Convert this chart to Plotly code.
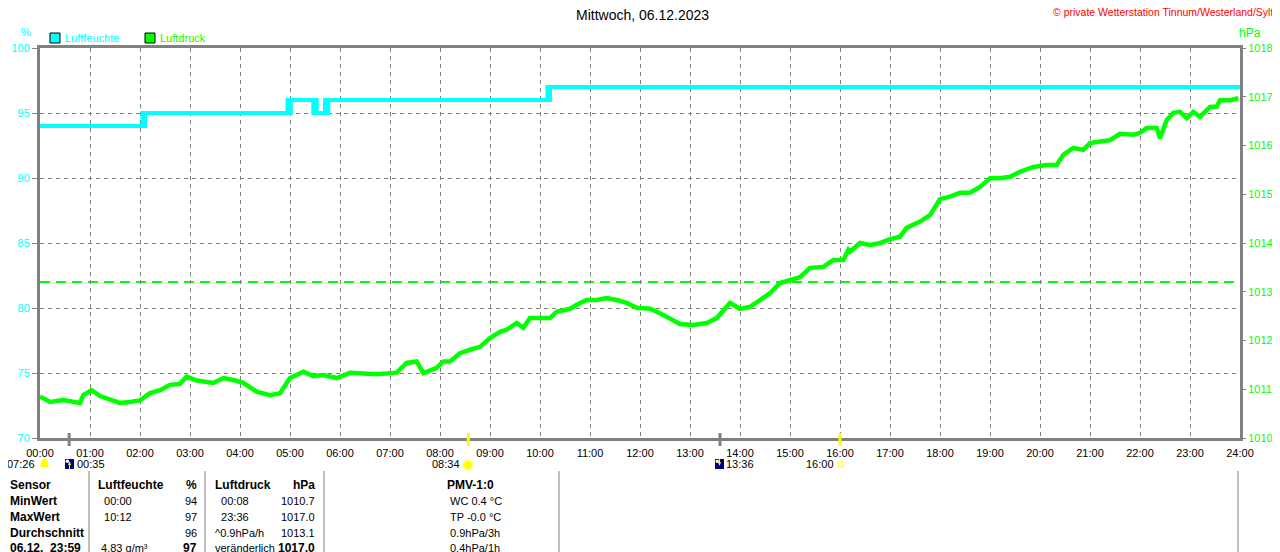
import plotly.graph_objects as go

# ---------------- data ----------------
hours = list(range(0, 25))
hour_labels = [f"{h:02d}:00" for h in hours]

# relative humidity (%), step series: minutes of day / value
hum_min = [0, 123, 124, 126, 297, 299, 301, 328, 330, 332, 342, 344, 346, 609, 610, 612, 1440]
hum_val = [94, 95, 94, 95, 96, 95, 96, 95, 96, 95, 96, 95, 96, 97, 96, 97, 97]

# air pressure (hPa): minutes of day / value
p_min = [0, 12, 28, 48, 52, 62, 72, 84, 96, 108, 120, 132, 144, 156, 168, 176, 188, 208, 220, 232,
         244, 260, 276, 288, 300, 316, 328, 340, 356, 372, 388, 404, 428, 440, 452, 460, 476, 484,
         492, 504, 516, 528, 540, 552, 560, 572, 580, 588, 600, 612, 620, 636, 648, 656, 668, 680,
         692, 704, 716, 732, 744, 756, 768, 784, 800, 812, 820, 828, 840, 852, 864, 876, 888, 900,
         912, 924, 940, 952, 964, 970, 972, 984, 996, 1008, 1020, 1032, 1040, 1056, 1068, 1080,
         1092, 1104, 1116, 1128, 1140, 1152, 1164, 1176, 1192, 1208, 1220, 1228, 1240, 1252, 1260,
         1272, 1284, 1296, 1312, 1320, 1328, 1340, 1344, 1352, 1360, 1368, 1376, 1384, 1392, 1404,
         1412, 1416, 1428, 1438]
p_val = [1010.85, 1010.74, 1010.78, 1010.72, 1010.88, 1010.98, 1010.86, 1010.80, 1010.72, 1010.74,
         1010.77, 1010.92, 1010.98, 1011.09, 1011.11, 1011.26, 1011.18, 1011.13, 1011.23, 1011.19,
         1011.13, 1010.95, 1010.88, 1010.92, 1011.23, 1011.36, 1011.27, 1011.29, 1011.23, 1011.34,
         1011.33, 1011.31, 1011.34, 1011.54, 1011.57, 1011.33, 1011.44, 1011.57, 1011.57, 1011.74,
         1011.81, 1011.87, 1012.05, 1012.18, 1012.22, 1012.36, 1012.26, 1012.46, 1012.46, 1012.46,
         1012.59, 1012.65, 1012.77, 1012.83, 1012.83, 1012.87, 1012.83, 1012.77, 1012.67, 1012.65,
         1012.56, 1012.46, 1012.34, 1012.32, 1012.36, 1012.46, 1012.63, 1012.77, 1012.65, 1012.69,
         1012.83, 1012.97, 1013.18, 1013.24, 1013.30, 1013.49, 1013.51, 1013.65, 1013.65, 1013.86,
         1013.82, 1014.00, 1013.96, 1014.00, 1014.08, 1014.13, 1014.31, 1014.44, 1014.57, 1014.90,
         1014.95, 1015.03, 1015.03, 1015.15, 1015.33, 1015.33, 1015.36, 1015.46, 1015.56, 1015.60,
         1015.60, 1015.81, 1015.95, 1015.91, 1016.05, 1016.08, 1016.11, 1016.24, 1016.22, 1016.26,
         1016.36, 1016.36, 1016.15, 1016.52, 1016.67, 1016.69, 1016.56, 1016.69, 1016.59, 1016.79,
         1016.80, 1016.93, 1016.93, 1016.97]
p_avg_line = 1013.2

# astronomical events (hours)
moon_marks = [35 / 60, 13 + 36 / 60]
sun_marks = [8 + 34 / 60, 16.0]

table_rows = [
    ["<b>Sensor</b>", "<b>Luftfeuchte</b>", "<b>%</b>", "<b>Luftdruck</b>", "<b>hPa</b>", "<b>PMV-1:0</b>"],
    ["<b>MinWert</b>", "  00:00", "94", "  00:08", "1010.7", "WC 0.4 °C"],
    ["<b>MaxWert</b>", "  10:12", "97", "  23:36", "1017.0", "TP -0.0 °C"],
    ["<b>Durchschnitt</b>", "", "96", "^0.9hPa/h", "1013.1", "0.9hPa/3h"],
    ["<b>06.12.  23:59</b>", " 4.83 g/m³", "<b>97</b>", "veränderlich", "<b>1017.0</b>", "0.4hPa/1h"],
]

# ---------------- layout helpers (page pixel coordinates) ----------------
PAGE_OFF = 8                 # default body margin of the html page
W, H = 1280 - PAGE_OFF, 552 - PAGE_OFF
L, R, T, B = 40, 1240, 48, 438   # plot area in page pixels
FONT = "Liberation Sans"
CYAN = "#00FFFF"
GREEN = "#00FF00"
GRAY = "#808080"


def px(x):
    return (x - L) / (R - L)


def py(y):
    return (B - y) / (B - T)


fig = go.Figure()
fig.add_trace(go.Scatter(x=[m / 60 for m in hum_min], y=hum_val, mode="lines",
                         line=dict(color=CYAN, width=4, shape="hv"), yaxis="y",
                         showlegend=False, hoverinfo="skip"))
fig.add_trace(go.Scatter(x=[m / 60 for m in p_min], y=p_val, mode="lines",
                         line=dict(color=GREEN, width=4.5), yaxis="y2",
                         showlegend=False, hoverinfo="skip"))

shapes = []
shapes.append(dict(type="line", xref="paper", yref="y2", x0=0, x1=1, y0=p_avg_line, y1=p_avg_line,
                   line=dict(color=GREEN, width=2, dash="10px,6px"), layer="below"))
for t in moon_marks:
    shapes.append(dict(type="line", xref="x", yref="paper", x0=t, x1=t, y0=py(433), y1=py(446),
                       line=dict(color=GRAY, width=3)))
for t in sun_marks:
    shapes.append(dict(type="line", xref="x", yref="paper", x0=t, x1=t, y0=py(433), y1=py(446),
                       line=dict(color="#FFFF00", width=3)))

for x0, col in [(50, CYAN), (145, GREEN)]:
    shapes.append(dict(type="rect", xref="paper", yref="paper", x0=px(x0), x1=px(x0 + 10),
                       y0=py(43), y1=py(33), fillcolor=col, line=dict(color="black", width=1)))

shapes.append(dict(type="path", xref="paper", yref="paper",
                   path=f"M {px(41)} {py(467)} Q {px(41)} {py(459)} {px(44.5)} {py(459)} "
                        f"Q {px(48)} {py(459)} {px(48)} {py(467)} Z",
                   fillcolor="#FFFF00", line=dict(color="#FFFF00", width=1)))
for x0, up in [(65, True), (715, False)]:
    shapes.append(dict(type="rect", xref="paper", yref="paper", x0=px(x0), x1=px(x0 + 9),
                       y0=py(469), y1=py(459), fillcolor="#000080", line=dict(width=0)))
    shapes.append(dict(type="circle", xref="paper", yref="paper", x0=px(x0 + 0.5), x1=px(x0 + 4),
                       y0=py(463), y1=py(459.5), fillcolor="white", line=dict(width=0)))
    if up:
        shapes.append(dict(type="path", xref="paper", yref="paper",
                           path=f"M {px(x0+3)} {py(465)} L {px(x0+6)} {py(465)} L {px(x0+4.5)} {py(461)} Z",
                           fillcolor="#FFFF00", line=dict(width=0)))
        shapes.append(dict(type="line", xref="paper", yref="paper", x0=px(x0 + 4.5), x1=px(x0 + 4.5),
                           y0=py(464), y1=py(469), line=dict(color="#FFFF00", width=1)))
    else:
        shapes.append(dict(type="path", xref="paper", yref="paper",
                           path=f"M {px(x0+3)} {py(462)} L {px(x0+6)} {py(462)} L {px(x0+4.5)} {py(466)} Z",
                           fillcolor="#FFFF00", line=dict(width=0)))
        shapes.append(dict(type="line", xref="paper", yref="paper", x0=px(x0 + 4.5), x1=px(x0 + 4.5),
                           y0=py(459), y1=py(463), line=dict(color="#FFFF00", width=1)))
shapes.append(dict(type="circle", xref="paper", yref="paper", x0=px(462), x1=px(474),
                   y0=py(471), y1=py(459), fillcolor="#FFFFA0", line=dict(width=0)))
shapes.append(dict(type="circle", xref="paper", yref="paper", x0=px(464), x1=px(472),
                   y0=py(469), y1=py(461), fillcolor="#FFFF00", line=dict(width=0)))
shapes.append(dict(type="rect", xref="paper", yref="paper", x0=px(838), x1=px(843),
                   y0=py(467), y1=py(462), line=dict(color="#FFFF00", width=1)))

for xs in [89, 205, 324, 559, 1238]:
    shapes.append(dict(type="line", xref="paper", yref="paper", x0=px(xs), x1=px(xs),
                       y0=py(471), y1=py(552), line=dict(color=GRAY, width=1)))

ann = []


def text(x, y, s, color="black", size=11, xanchor="left"):
    ann.append(dict(x=px(x), y=py(y), xref="paper", yref="paper", text=s, showarrow=False,
                    xanchor=xanchor, yanchor="middle", font=dict(family=FONT, size=size, color=color)))


text(642, 15, "Mittwoch, 06.12.2023", size=14, xanchor="center")
text(1275, 12, "© private Wetterstation Tinnum/Westerland/Sylt", color="red", size=10.5, xanchor="right")
text(26, 32, "%", color=CYAN, size=11, xanchor="center")
text(1250, 33, "hPa", color=GREEN, size=12, xanchor="center")
text(63, 38, "Luftfeuchte", color=CYAN, size=11)
text(158, 38, "Luftdruck", color=GREEN, size=11)

text(37, 464, "07:26", size=11, xanchor="right")
text(75, 464, "00:35", size=11)
text(462, 464, "08:34", size=11, xanchor="right")
text(724, 464, "13:36", size=11)
text(836, 464, "16:00", size=11, xanchor="right")


def cell_size(s):
    return 12 if s.startswith("<b>") else 11


row_y = [485, 501, 517, 533, 548]
for ry, row in zip(row_y, table_rows):
    text(8, ry, row[0], size=cell_size(row[0]))
    text(96, ry, row[1], size=cell_size(row[1]))
    text(199, ry, row[2], size=cell_size(row[2]), xanchor="right")
    text(213, ry, row[3], size=cell_size(row[3]))
    text(317, ry, row[4], size=cell_size(row[4]), xanchor="right")
    if row[5].startswith("<b>"):
        text(470, ry, row[5], size=12, xanchor="center")
    else:
        text(448, ry, row[5], size=11)

fig.update_layout(
    width=W, height=H,
    margin=dict(l=L - PAGE_OFF, r=W - (R - PAGE_OFF), t=T - PAGE_OFF, b=H - (B - PAGE_OFF), pad=0),
    paper_bgcolor="white", plot_bgcolor="white",
    showlegend=False,
    font=dict(family=FONT, size=11, color="black"),
    xaxis=dict(range=[0, 24], tickvals=hours, ticktext=hour_labels, showgrid=True, automargin=False,
               gridcolor=GRAY, gridwidth=1, griddash="4px,4px", showline=True, linecolor=GRAY,
               linewidth=3, mirror=True, ticks="", zeroline=False,
               tickfont=dict(family=FONT, size=11, color="black"), ticklabelstandoff=3),
    yaxis=dict(range=[70, 100], tickvals=[70, 75, 80, 85, 90, 95, 100], showgrid=True,
               automargin=False,
               gridcolor=GRAY, gridwidth=1, griddash="4px,4px", showline=True, linecolor=GRAY,
               linewidth=3, mirror=True, ticks="outside", ticklen=5, tickcolor=GRAY, tickwidth=1,
               zeroline=False, tickfont=dict(family=FONT, size=11, color=CYAN)),
    yaxis2=dict(range=[1010, 1018], tickvals=list(range(1010, 1019)), overlaying="y", side="right",
                automargin=False,
                showgrid=False, zeroline=False, ticks="outside", ticklen=5, tickcolor=GRAY,
                tickwidth=1, showline=False, tickfont=dict(family=FONT, size=11, color=GREEN)),
    shapes=shapes,
    annotations=ann,
)

fig.write_html("out.html")
